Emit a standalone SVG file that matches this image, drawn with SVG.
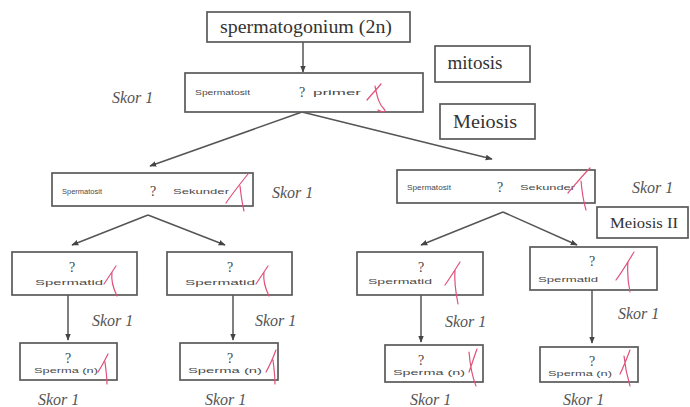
<svg xmlns="http://www.w3.org/2000/svg" width="690" height="407" viewBox="0 0 690 407">
<defs>
<marker id="ah" viewBox="0 0 10 10" refX="9" refY="5" markerWidth="7" markerHeight="7" orient="auto" markerUnits="userSpaceOnUse">
<path d="M0,1 L10,5 L0,9 Z" fill="#444"/>
</marker>
<style>
.box{fill:#fff;stroke:#5a5a5a;stroke-width:1.7}
.ln{stroke:#555;stroke-width:1.5;fill:none}
.pr{font-family:"Liberation Serif",serif;font-size:18px;fill:#333}
.sm{font-family:"Liberation Serif",serif;font-size:15px;fill:#333}
.hw{font-family:"Liberation Sans",sans-serif;font-size:8px;fill:#4a4a4a}
.q{font-family:"Liberation Serif",serif;font-size:14px;fill:#444}
.sk{font-family:"Liberation Serif",serif;font-size:16px;font-style:italic;fill:#555}
.ck{stroke:#e0507a;stroke-width:1.2;fill:none;stroke-linecap:round}
</style>
</defs>
<rect width="690" height="407" fill="#fff"/>
<g id="connectors">
<line class="ln" x1="303" y1="42" x2="303" y2="72" marker-end="url(#ah)"/>
<line class="ln" x1="302" y1="112" x2="150" y2="166" marker-end="url(#ah)"/>
<line class="ln" x1="302" y1="112" x2="492" y2="159" marker-end="url(#ah)"/>
<line class="ln" x1="148" y1="215" x2="72" y2="245" marker-end="url(#ah)"/>
<line class="ln" x1="148" y1="215" x2="225" y2="245" marker-end="url(#ah)"/>
<line class="ln" x1="503" y1="212" x2="421" y2="245" marker-end="url(#ah)"/>
<line class="ln" x1="503" y1="212" x2="577" y2="245" marker-end="url(#ah)"/>
<line class="ln" x1="68" y1="295" x2="68" y2="340" marker-end="url(#ah)"/>
<line class="ln" x1="233" y1="295" x2="233" y2="340" marker-end="url(#ah)"/>
<line class="ln" x1="421" y1="295" x2="421" y2="342" marker-end="url(#ah)"/>
<line class="ln" x1="592" y1="290" x2="592" y2="343" marker-end="url(#ah)"/>
</g>
<g id="spermatogonium">
<rect class="box" x="207" y="12" width="203" height="30"/>
<text class="pr" x="306" y="33" text-anchor="middle" textLength="172" lengthAdjust="spacingAndGlyphs">spermatogonium (2n)</text>
</g>
<g id="primer">
<rect class="box" x="185" y="73" width="238" height="39"/>
<text class="hw" x="195" y="95" textLength="55" lengthAdjust="spacingAndGlyphs">Spermatosit</text>
<text class="q" x="302" y="97" text-anchor="middle">?</text>
<text class="hw" x="313" y="95" textLength="48" lengthAdjust="spacingAndGlyphs">primer</text>
<path class="ck" d="M367,100 C372,94 376,90 381,84 M375,86 C377,95 378,103 384,109 C387,112 383,113 378,110"/>
</g>
<g id="mitosis">
<rect class="box" x="435" y="46" width="95" height="36"/>
<text class="pr" x="475" y="69" text-anchor="middle" textLength="55" lengthAdjust="spacingAndGlyphs">mitosis</text>
</g>
<g id="meiosis">
<rect class="box" x="440" y="104" width="95" height="35"/>
<text class="pr" x="485" y="128" text-anchor="middle" textLength="64" lengthAdjust="spacingAndGlyphs">Meiosis</text>
</g>
<g id="sekunder-left">
<rect class="box" x="52" y="173" width="201" height="33"/>
<text class="hw" x="62" y="194" textLength="40" lengthAdjust="spacingAndGlyphs">Spermatosit</text>
<text class="q" x="153" y="196" text-anchor="middle">?</text>
<text class="hw" x="173" y="194" textLength="56" lengthAdjust="spacingAndGlyphs">Sekunder</text>
<path class="ck" d="M226,203 C232,194 240,184 248,174 M240,186 C241,195 242,203 244,211"/>
</g>
<g id="sekunder-right">
<rect class="box" x="397" y="170" width="198" height="33"/>
<text class="hw" x="407" y="190" textLength="44" lengthAdjust="spacingAndGlyphs">Spermatosit</text>
<text class="q" x="500" y="192" text-anchor="middle">?</text>
<text class="hw" x="520" y="190" textLength="55" lengthAdjust="spacingAndGlyphs">Sekunder</text>
<path class="ck" d="M568,193 C575,185 582,176 590,168 M581,181 C582,192 583,200 586,210"/>
</g>
<g id="meiosis2">
<rect class="box" x="597" y="207" width="91" height="31"/>
<text class="sm" x="644" y="228" text-anchor="middle" textLength="68" lengthAdjust="spacingAndGlyphs">Meiosis II</text>
</g>
<g id="spermatid-1">
<rect class="box" x="12" y="252" width="125" height="43"/>
<text class="q" x="72" y="272" text-anchor="middle">?</text>
<text class="hw" x="35" y="285" textLength="68" lengthAdjust="spacingAndGlyphs">Spermatid</text>
<path class="ck" d="M104,284 C108,278 112,272 116,266 M112,272 C111,280 113,288 117,296"/>
</g>
<g id="spermatid-2">
<rect class="box" x="167" y="252" width="125" height="43"/>
<text class="q" x="230" y="272" text-anchor="middle">?</text>
<text class="hw" x="185" y="285" textLength="70" lengthAdjust="spacingAndGlyphs">Spermatid</text>
<path class="ck" d="M256,284 C260,278 264,272 268,266 M264,272 C263,280 265,288 269,296"/>
</g>
<g id="spermatid-3">
<rect class="box" x="357" y="252" width="126" height="43"/>
<text class="q" x="421" y="272" text-anchor="middle">?</text>
<text class="hw" x="368" y="284" textLength="64" lengthAdjust="spacingAndGlyphs">Spermatid</text>
<path class="ck" d="M445,285 C450,278 455,270 460,262 M455,270 C454,282 456,294 458,304"/>
</g>
<g id="spermatid-4">
<rect class="box" x="530" y="247" width="127" height="43"/>
<text class="q" x="592" y="266" text-anchor="middle">?</text>
<text class="hw" x="538" y="282" textLength="60" lengthAdjust="spacingAndGlyphs">Spermatid</text>
<path class="ck" d="M616,280 C622,272 628,262 634,252 M628,262 C627,272 628,282 630,292"/>
</g>
<g id="sperma-1">
<rect class="box" x="20" y="343" width="97" height="37"/>
<text class="q" x="68" y="363" text-anchor="middle">?</text>
<text class="hw" x="34" y="373" textLength="64" lengthAdjust="spacingAndGlyphs">Sperma (n)</text>
<path class="ck" d="M98,372 C102,366 105,360 108,354 M105,362 C106,370 107,378 107,384"/>
</g>
<g id="sperma-2">
<rect class="box" x="180" y="343" width="98" height="37"/>
<text class="q" x="230" y="363" text-anchor="middle">?</text>
<text class="hw" x="188" y="373" textLength="74" lengthAdjust="spacingAndGlyphs">Sperma (n)</text>
<path class="ck" d="M266,372 C270,365 273,358 276,350 M273,360 C274,368 275,376 275,384"/>
</g>
<g id="sperma-3">
<rect class="box" x="385" y="345" width="98" height="37"/>
<text class="q" x="421" y="365" text-anchor="middle">?</text>
<text class="hw" x="393" y="375" textLength="72" lengthAdjust="spacingAndGlyphs">Sperma (n)</text>
<path class="ck" d="M469,372 C472,364 474,357 477,349 M469,352 C470,364 472,376 476,386"/>
</g>
<g id="sperma-4">
<rect class="box" x="540" y="347" width="98" height="35"/>
<text class="q" x="592" y="366" text-anchor="middle">?</text>
<text class="hw" x="548" y="376" textLength="64" lengthAdjust="spacingAndGlyphs">Sperma (n)</text>
<path class="ck" d="M620,374 C624,366 627,358 630,350 M624,356 C625,366 627,376 630,386"/>
</g>
<g id="scores">
<text class="sk" x="112" y="103">Skor 1</text>
<text class="sk" x="272" y="198">Skor 1</text>
<text class="sk" x="632" y="193">Skor 1</text>
<text class="sk" x="92" y="326">Skor 1</text>
<text class="sk" x="255" y="326">Skor 1</text>
<text class="sk" x="445" y="327">Skor 1</text>
<text class="sk" x="618" y="319">Skor 1</text>
<text class="sk" x="38" y="405">Skor 1</text>
<text class="sk" x="205" y="405">Skor 1</text>
<text class="sk" x="410" y="405">Skor 1</text>
<text class="sk" x="563" y="405">Skor 1</text>
</g>
</svg>
